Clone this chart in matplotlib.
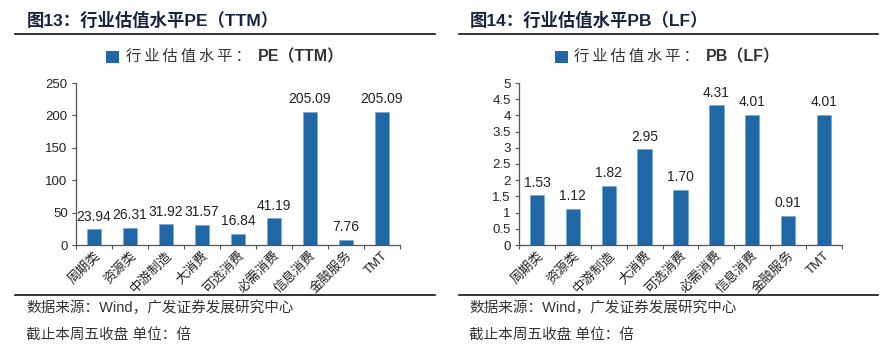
import matplotlib
matplotlib.use("Agg")
import matplotlib.pyplot as plt
from matplotlib.lines import Line2D
from matplotlib.patches import Rectangle
from matplotlib.offsetbox import AnchoredOffsetbox, HPacker, TextArea, DrawingArea

plt.rcParams['font.family'] = ['Liberation Sans', 'Noto Sans CJK SC', 'DejaVu Sans']

categories = ['周期类', '资源类', '中游制造', '大消费', '可选消费', '必需消费', '信息消费', '金融服务', 'TMT']
pe_values = [23.94, 26.31, 31.92, 31.57, 16.84, 41.19, 205.09, 7.76, 205.09]
pb_values = [1.53, 1.12, 1.82, 2.95, 1.70, 4.31, 4.01, 0.91, 4.01]

pe_ticks = [0, 50, 100, 150, 200, 250]
pb_ticks = [0, 0.5, 1, 1.5, 2, 2.5, 3, 3.5, 4, 4.5, 5]

BAR = '#1f67a5'
TITLE = '#17263f'
TXT = '#333333'

fig = plt.figure(figsize=(8.92, 3.52), dpi=100)


def fx(px):
    return px / 892


def fy(py):
    return 1 - py / 352


def spaced(s):
    # loose letter spacing like the original legend
    return '\u2009'.join(s)


def panel(left_px, right_px, values, ticks, fig_title, leg_a, leg_b, text_x, line_x0, line_x1):
    ax = fig.add_axes([fx(left_px), fy(245), fx(right_px - left_px), (245 - 83) / 352])
    x = list(range(len(categories)))
    ax.bar(x, values, width=0.4, color=BAR, edgecolor='#6fa3cf', linewidth=0.4)
    ax.set_xlim(-0.5, len(categories) - 0.5)
    ax.set_ylim(ticks[0], ticks[-1])
    ax.set_yticks(ticks)
    ax.set_yticklabels(['%g' % t for t in ticks], fontsize=9.5, color='#222222')
    ax.set_xticks([i - 0.5 for i in range(len(categories) + 1)])
    ax.set_xticklabels([])
    ax.set_xticks(x, minor=True)
    ax.set_xticklabels(categories, minor=True, rotation=45, ha='right', va='top',
                       rotation_mode='anchor', fontsize=9.5, color='#222222')
    ax.tick_params(axis='x', which='minor', length=0, pad=3)
    ax.tick_params(axis='x', which='major', length=3, direction='out', color='#555555')
    ax.tick_params(axis='y', length=3, direction='out', color='#555555', pad=3)
    for s in ['top', 'right']:
        ax.spines[s].set_visible(False)
    for s in ['left', 'bottom']:
        ax.spines[s].set_color('#555555')
        ax.spines[s].set_linewidth(0.9)
    span = ticks[-1] - ticks[0]
    for xi, v in zip(x, values):
        ax.text(xi, v + span * 0.035, '%.2f' % v, ha='center', va='bottom', fontsize=10, color='#222222')

    # legend with mixed weights
    da = DrawingArea(9, 9, 0, 0)
    da.add_artist(Rectangle((0, 0), 9, 9, facecolor=BAR, edgecolor='none'))
    t1 = TextArea(spaced(leg_a), textprops=dict(fontsize=11, color=TXT))
    t2 = TextArea(leg_b, textprops=dict(fontsize=11.5, color=TXT, fontweight='bold'))
    box = HPacker(children=[da, t1, t2], align='center', pad=0, sep=5)
    anchored = AnchoredOffsetbox(loc='center', child=box, frameon=False,
                                 bbox_to_anchor=(0.46, 1.16), bbox_transform=ax.transAxes,
                                 borderpad=0, pad=0)
    ax.add_artist(anchored)

    fig.text(fx(text_x), fy(20), fig_title, fontsize=12.5, fontweight='bold', color=TITLE,
             ha='left', va='center')
    fig.add_artist(Line2D([fx(line_x0), fx(line_x1)], [fy(34), fy(34)], color='#111111', lw=1.2))
    fig.add_artist(Line2D([fx(line_x0), fx(line_x1)], [fy(295), fy(295)], color='#111111', lw=1.2))
    fig.text(fx(text_x - 1), fy(308), '数据来源：Wind，广发证券发展研究中心', fontsize=10.5, color=TXT,
             ha='left', va='center')
    fig.text(fx(text_x - 1), fy(336), '截止本周五收盘 单位：倍', fontsize=10.5, color=TXT,
             ha='left', va='center')
    return ax


panel(76, 400, pe_values, pe_ticks, '图13：行业估值水平PE（TTM）', '行业估值水平：', 'PE（TTM）', 27, 15, 435)
panel(519, 842, pb_values, pb_ticks, '图14：行业估值水平PB（LF）', '行业估值水平：', 'PB（LF）', 470, 459, 878)

fig.savefig('out.png', dpi=100)
